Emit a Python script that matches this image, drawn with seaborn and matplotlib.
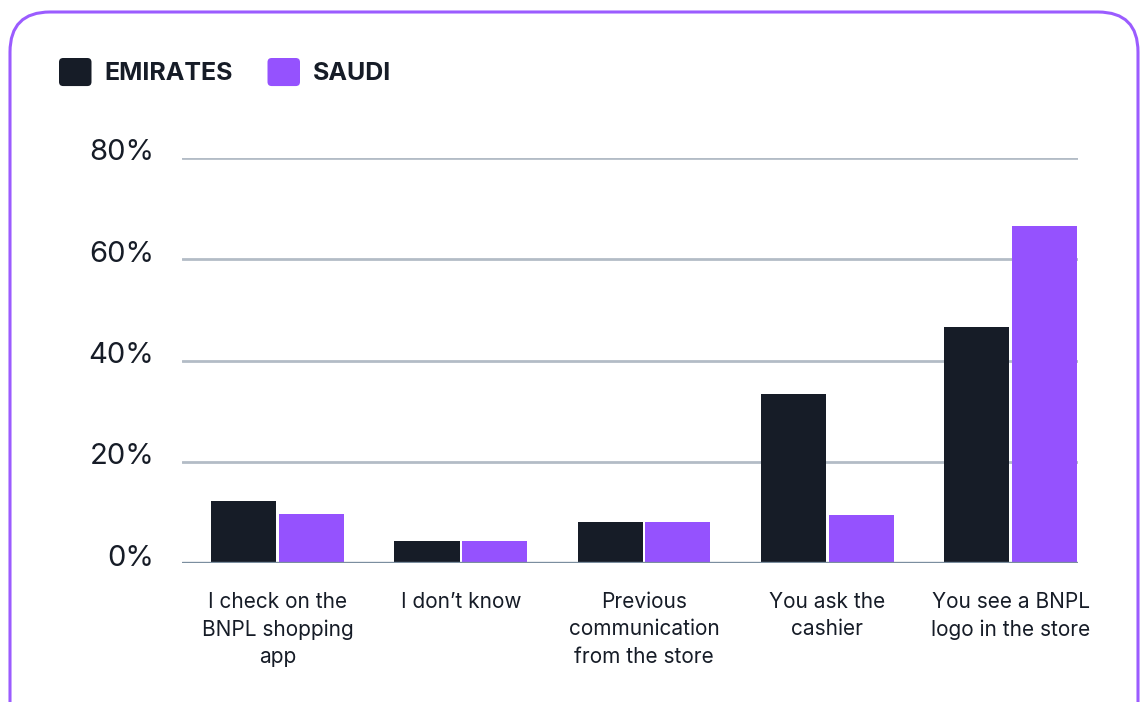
import matplotlib
matplotlib.use("Agg")
import matplotlib.pyplot as plt
import seaborn as sns
import pandas as pd
from matplotlib.patches import FancyBboxPatch, Patch
from matplotlib.legend_handler import HandlerPatch
from matplotlib.transforms import ScaledTranslation

categories = ["I check on the\nBNPL shopping\napp", "I don’t know",
              "Previous\ncommunication\nfrom the store", "You ask the\ncashier",
              "You see a BNPL\nlogo in the store"]
emirates = [12.2, 4.3, 8.1, 33.4, 46.6]
saudi = [9.7, 4.3, 8.1, 9.5, 66.6]
series = ["EMIRATES", "SAUDI"]
yticks = [0, 20, 40, 60, 80]
ytick_labels = ["0%", "20%", "40%", "60%", "80%"]

colors = {"EMIRATES": "#161c27", "SAUDI": "#9552fe"}
text_color = "#161c27"

df = pd.DataFrame({
    "category": categories * 2,
    "value": emirates + saudi,
    "series": [series[0]] * len(categories) + [series[1]] * len(categories),
})

sns.set_theme(style="white")
plt.rcParams["font.family"] = ["Inter", "DejaVu Sans"]

fig = plt.figure(figsize=(11.46, 7.02), dpi=100)
ax = fig.add_axes([182 / 1146, 139 / 702, (1078 - 182) / 1146, 405 / 702])

sns.barplot(data=df, x="category", y="value", hue="series", palette=colors,
            order=categories, hue_order=series, width=0.737, gap=0.037,
            saturation=1, ax=ax, legend=False, zorder=3, linewidth=0)

ax.set_xlim(-0.521, 4.368)
ax.set_ylim(0, 80)
ax.set_yticks(yticks)
ax.set_yticklabels(ytick_labels)
ax.set_xlabel("")
ax.set_ylabel("")
for s in ax.spines.values():
    s.set_visible(False)
ax.yaxis.grid(True, color="#b3bcc6", linewidth=2.0, zorder=0)
ax.set_axisbelow(True)
ax.axhline(0, color="#7b8e9f", linewidth=2.4, zorder=4)
ax.tick_params(axis="y", length=0, pad=20, labelsize=21, labelcolor=text_color)
ax.tick_params(axis="x", length=0, pad=21, labelsize=15, labelcolor=text_color)
shift = ScaledTranslation(0, 8 / 100, fig.dpi_scale_trans)
for lab in ax.get_yticklabels():
    lab.set_transform(lab.get_transform() + shift)
for lab in ax.get_xticklabels():
    lab.set_linespacing(1.45)


class RoundHandler(HandlerPatch):
    def create_artists(self, legend, orig_handle, xdescent, ydescent, width,
                       height, fontsize, trans):
        p = FancyBboxPatch((-xdescent, -ydescent), width, height,
                           boxstyle="round,pad=0,rounding_size=3",
                           fc=orig_handle.get_facecolor(), ec="none",
                           transform=trans)
        return [p]


handles = [Patch(facecolor=colors[s]) for s in series]
leg = fig.legend(handles, series, loc="upper left",
                 bbox_to_anchor=(59 / 1146, 1 - 58 / 702), ncol=2,
                 frameon=False, borderpad=0, borderaxespad=0,
                 handlelength=1.3, handleheight=1.35, handletextpad=0.5,
                 columnspacing=1.4, prop={"size": 18, "weight": "bold"},
                 handler_map={Patch: RoundHandler()})
for t in leg.get_texts():
    t.set_color(text_color)

border = FancyBboxPatch((10, -40), 1128, 730,
                        boxstyle="round,pad=0,rounding_size=40",
                        fc="none", ec="#9b5cff", linewidth=2.2,
                        transform=None, figure=fig)
fig.patches.append(border)

fig.savefig("out.png", dpi=100)
